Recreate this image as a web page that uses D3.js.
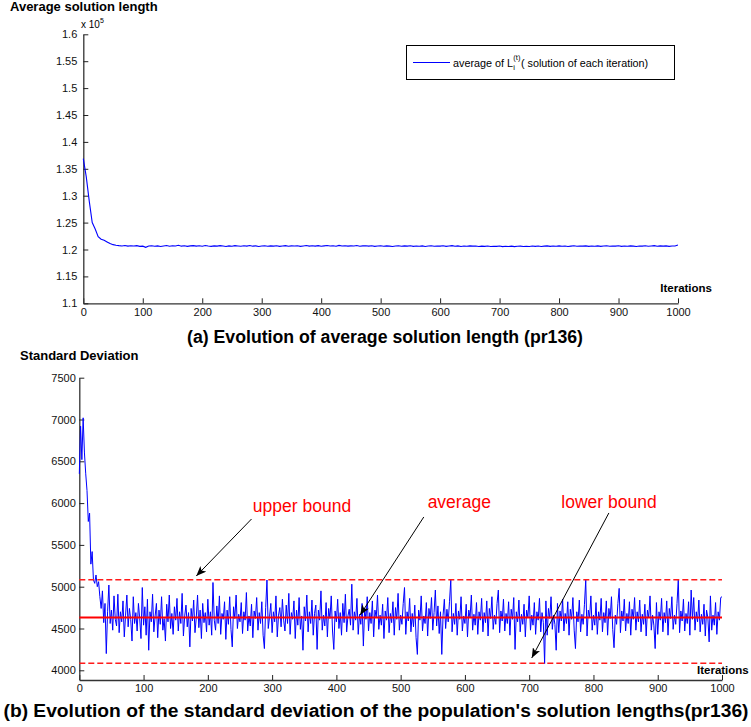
<!DOCTYPE html>
<html>
<head>
<meta charset="utf-8">
<script src="https://cdn.jsdelivr.net/npm/d3@7"></script>
<style>
  html, body { margin: 0; padding: 0; background: #fff; }
  svg { display: block; }
</style>
</head>
<body>
<svg id="chart" width="751" height="727"></svg>
<script>
// ---------------- DATA ----------------
// (a) average solution length, in units of 1e5, sampled every 5 iterations (0..1000)
const avgIterStep = 5;
const avgLength = [
1.369,1.335,1.290,1.250,1.238,1.224,1.219,1.217,1.214,1.211,1.209,1.208,
1.2072,1.2066,1.2074,1.2063,1.2070,1.2065,1.2071,1.2058,1.2062,1.2040,1.2064,1.2070,1.2061,1.2068,1.2055,1.2066,
1.2073,1.2060,1.2069,1.2064,1.2078,1.2062,1.2070,1.2059,1.2067,1.2072,1.2063,1.2069,1.2061,1.2074,1.2065,1.2058,
1.2068,1.2062,1.2071,1.2064,1.2055,1.2067,1.2060,1.2072,1.2066,1.2061,1.2069,1.2063,1.2075,1.2062,1.2068,1.2057,
1.2066,1.2071,1.2060,1.2067,1.2063,1.2070,1.2058,1.2065,1.2072,1.2061,1.2068,1.2064,1.2070,1.2059,1.2066,1.2073,
1.2062,1.2069,1.2063,1.2071,1.2060,1.2067,1.2074,1.2065,1.2070,1.2061,1.2076,1.2066,1.2071,1.2062,1.2068,1.2064,
1.2073,1.2060,1.2067,1.2071,1.2063,1.2069,1.2058,1.2066,1.2070,1.2061,1.2068,1.2063,1.2055,1.2066,1.2071,1.2060,
1.2067,1.2062,1.2069,1.2058,1.2065,1.2061,1.2068,1.2057,1.2064,1.2070,1.2060,1.2066,1.2062,1.2069,1.2059,1.2065,
1.2071,1.2061,1.2067,1.2056,1.2064,1.2060,1.2068,1.2062,1.2066,1.2057,1.2063,1.2059,1.2065,1.2055,1.2061,1.2058,
1.2064,1.2053,1.2060,1.2056,1.2062,1.2054,1.2059,1.2063,1.2055,1.2061,1.2057,1.2064,1.2059,1.2066,1.2056,1.2062,
1.2068,1.2058,1.2064,1.2060,1.2067,1.2061,1.2065,1.2057,1.2063,1.2069,1.2060,1.2066,1.2062,1.2068,1.2059,1.2065,
1.2061,1.2067,1.2058,1.2064,1.2070,1.2060,1.2066,1.2062,1.2069,1.2059,1.2065,1.2061,1.2068,1.2063,1.2057,1.2066,
1.2062,1.2069,1.2060,1.2065,1.2071,1.2061,1.2067,1.2062,1.2068,1.2059,1.2064,1.2066,1.2082
];

// (b) standard deviation of population's solution lengths, sampled every 2 iterations (0..1000)
const sdIterStep = 2;
const stdDev = [
6350,6920,6520,7020,6600,6350,6150,5780,5880,5270,5420,5080,5040,5140,5000,5060,4880,4740,4950,4570,4800,4200,4700,5020,4560,
4720,4480,4890,4610,4530,4910,4450,4700,4580,4830,4400,4660,4900,4520,4740,4610,4350,4880,4560,4690,4470,4800,4620,4380,4990,
4540,4760,4420,4850,4240,4700,4580,4910,4460,4650,4800,4390,4720,4550,4880,4480,4620,4350,4790,4580,4900,4500,4680,4430,4760,
4600,4860,4470,4700,4560,4920,4410,4650,4780,4520,4690,4280,4740,4590,4840,4450,4630,4900,4510,4720,4380,4800,4570,4690,4460,
4850,4540,4700,4420,5050,4600,4480,4770,4560,4890,4430,4680,4610,4820,4370,4720,4550,4880,4490,4280,4760,4620,4900,4500,4670,
4580,4810,4440,4700,4600,4930,4470,4650,4530,4790,4390,4710,4620,4870,4480,4690,4560,4820,4420,4260,4750,5080,4500,4640,4800,
4450,4700,4580,4890,4400,4660,4750,4520,4850,4600,4470,4780,4560,4920,4430,4690,4610,4830,4380,4720,4540,4870,4490,4650,4240,
4760,4590,4900,4460,4700,4560,4840,4420,4680,4780,4250,4720,4600,4950,4480,4660,4530,4810,4400,4740,4620,4890,4470,4250,4710,
4580,4850,4500,4690,4420,4800,4570,4910,4460,4650,4730,4540,5030,4480,4700,4600,4860,4430,4670,4550,4800,4290,4740,4610,4880,
4470,4690,4560,4830,4400,4720,4630,4900,4490,4660,4540,4790,4380,4710,4600,4870,4450,4680,4570,4820,4420,4750,4610,4920,4480,
4660,4550,4800,4990,4430,4700,4590,4860,4460,4680,4520,4780,4390,4190,4720,4600,4890,4470,4650,4560,4810,4410,4740,4620,4870,
4480,4690,4960,4530,4770,4440,4700,4190,4660,4850,4500,4730,4580,4820,5080,4460,4680,4550,4800,4420,4710,4610,4880,4470,4650,
4560,4790,4400,4720,4630,4900,4480,4670,4540,4810,4430,4700,4600,4860,4460,4690,4570,4830,4410,4740,4620,4880,4490,4660,4550,
4800,4960,4450,4710,4590,4850,4470,4680,4560,4820,4420,4730,4610,4870,4250,4700,4580,4840,4460,4670,4550,4790,4400,4720,4630,
4890,4480,4660,4540,4810,4430,4700,4600,4860,4460,4690,4570,4080,4830,4420,4740,4620,4880,4490,4660,4550,4240,4800,4450,4710,
4590,4850,4470,4680,4560,4820,4420,4730,4610,4870,4480,4260,4700,4580,4840,4460,4670,4550,4790,5080,4410,4720,4630,4890,4480,
4660,4540,4810,4430,4700,4600,4860,4460,4690,4570,4830,4420,4740,4620,4880,4490,4270,4660,4550,4800,4980,4450,4710,4590,4850,
4470,4680,4560,4820,4420,4730,4610,4870,4480,4700,4580,4840,4460,4670,4550,4790,4410,4720,4630,4890,4480,4660,4540,4260,4810,
4430,4700,4600,4860,4460,4690,4570,4830,4420,4740,4620,4880,4490,4660,4550,4800,5090,4450,4710,4590,4850,4470,4680,4560,4820,
4420,4960,4610,4870,4480,4700,4580,4840,4460,4670,4550,4790,4410,4720,4630,4340,4890,4480,4660,4540,4810,4430,4700,4600,4870,
4880
];

// reference lines of panel (b)
const sdAverage = 4631;
const sdUpperBound = 5083;
const sdLowerBound = 4084;

// tick labels
const xTicks = [0,100,200,300,400,500,600,700,800,900,1000];
const yTicksA = [1.1,1.15,1.2,1.25,1.3,1.35,1.4,1.45,1.5,1.55,1.6];
const yTicksB = [4000,4500,5000,5500,6000,6500,7000,7500];

// text
const titleA = "Average solution length";
const titleB = "Standard Deviation";
const captionA = "(a) Evolution of average solution length (pr136)";
const captionB = "(b) Evolution of the standard deviation of the population's solution lengths(pr136)";
const xLabel = "Iterations";

// ---------------- DRAW ----------------
const FONT = "'Liberation Sans', Arial, Helvetica, sans-serif";
const svg = d3.select("#chart").style("font-family", FONT);
svg.append("rect").attr("width", 751).attr("height", 727).attr("fill", "#fff");

svg.append("defs").append("marker")
  .attr("id", "arrow").attr("markerUnits", "userSpaceOnUse")
  .attr("viewBox", "0 0 10 8").attr("refX", 10).attr("refY", 4)
  .attr("markerWidth", 10).attr("markerHeight", 8).attr("orient", "auto")
  .append("path").attr("d", "M0,0 L10,4 L0,8 L2.5,4 Z").attr("fill", "#000");

function styleAxis(g) {
  g.selectAll("path.domain").attr("stroke", "#333").attr("stroke-width", 1.3);
  g.selectAll(".tick line").attr("stroke", "#222").attr("stroke-width", 1);
  g.selectAll(".tick text").attr("font-family", FONT).attr("font-size", 11).attr("fill", "#111");
}

// ===== Panel (a) =====
const xA = d3.scaleLinear().domain([0, 1000]).range([83.3, 678]);
const yA = d3.scaleLinear().domain([1.1, 1.6]).range([303.3, 34.3]);

const gA = svg.append("g");
gA.append("g").attr("transform", `translate(0,${yA(1.1)})`)
  .call(d3.axisBottom(xA).tickValues(xTicks).tickSize(-5).tickSizeOuter(0).tickPadding(4.5).tickFormat(d => d))
  .call(styleAxis);
gA.append("g").attr("transform", `translate(${xA(0)},0)`)
  .call(d3.axisLeft(yA).tickValues(yTicksA).tickSize(-5).tickSizeOuter(0).tickPadding(6).tickFormat(d => String(d)))
  .call(styleAxis);

const lineA = d3.line().x((d, i) => xA(i * avgIterStep)).y(d => yA(d));
gA.append("path").datum(avgLength).attr("d", lineA)
  .attr("fill", "none").attr("stroke", "#0000ff").attr("stroke-width", 1.1);

gA.append("text").attr("x", 10).attr("y", 10.5).attr("font-size", 13).attr("font-weight", "bold").text(titleA);
const expo = gA.append("text").attr("x", 81).attr("y", 28).attr("font-size", 10);
expo.append("tspan").text("x 10");
expo.append("tspan").attr("font-size", 7).attr("dy", -5).text("5");

gA.append("text").attr("x", 712).attr("y", 292).attr("text-anchor", "end")
  .attr("font-size", 11.5).attr("font-weight", "bold").text(xLabel);

// legend
const leg = gA.append("g");
leg.append("rect").attr("x", 406.5).attr("y", 45.5).attr("width", 268).attr("height", 34)
  .attr("fill", "#fff").attr("stroke", "#000").attr("stroke-width", 1);
leg.append("line").attr("x1", 413).attr("x2", 450).attr("y1", 62.5).attr("y2", 62.5)
  .attr("stroke", "#0000ff").attr("stroke-width", 1.1);
const t1 = leg.append("text").attr("x", 453).attr("y", 66.5).attr("font-size", 10.8).text("average of L");
const w1 = t1.node().getComputedTextLength();
leg.append("text").attr("x", 453 + w1 + 0.3).attr("y", 70).attr("font-size", 7.5).text("i");
const sup = leg.append("text").attr("x", 453 + w1 + 0.3).attr("y", 60).attr("font-size", 7.5).text("(t)");
const ws = sup.node().getComputedTextLength();
leg.append("text").attr("x", 453 + w1 + ws + 0.8).attr("y", 66.5).attr("font-size", 10.8)
  .text("( solution of each iteration)");

const capA = svg.append("text").attr("x", 385).attr("y", 343).attr("text-anchor", "middle")
  .attr("font-size", 18).attr("font-weight", "bold").text(captionA);
capA.attr("textLength", 396).attr("lengthAdjust", "spacingAndGlyphs");

// ===== Panel (b) =====
const xB = d3.scaleLinear().domain([0, 1000]).range([79.3, 722]);
const yB = d3.scaleLinear().domain([3884, 7500]).range([680, 377.7]);

const gB = svg.append("g");
gB.append("g").attr("transform", `translate(0,${yB(3884)})`)
  .call(d3.axisBottom(xB).tickValues(xTicks).tickSize(-5).tickSizeOuter(0).tickPadding(4).tickFormat(d => d))
  .call(styleAxis);
gB.append("g").attr("transform", `translate(${xB(0)},0)`)
  .call(d3.axisLeft(yB).tickValues(yTicksB).tickSize(-5).tickSizeOuter(0).tickPadding(3.5).tickFormat(d => d))
  .call(styleAxis);

const lineB = d3.line().x((d, i) => xB(i * sdIterStep)).y(d => yB(d));
gB.append("path").datum(stdDev).attr("d", lineB)
  .attr("fill", "none").attr("stroke", "#0000ff").attr("stroke-width", 1);

// bound lines
[sdUpperBound, sdLowerBound].forEach(v => {
  gB.append("line").attr("x1", xB(0)).attr("x2", xB(1000)).attr("y1", yB(v)).attr("y2", yB(v))
    .attr("stroke", "#ff1a1a").attr("stroke-width", 1.5).attr("stroke-dasharray", "6,3");
});
gB.append("line").attr("x1", xB(0)).attr("x2", xB(1000)).attr("y1", yB(sdAverage)).attr("y2", yB(sdAverage))
  .attr("stroke", "#ff0000").attr("stroke-width", 2);

// annotations (anchored in data space)
const notes = [
  { label: "upper bound", tx: 270, ty: 5898, from: [268, 5810], to: [182, 5128] },
  { label: "average",     tx: 542, ty: 5940, from: [536, 5834], to: [437, 4662] },
  { label: "lower bound", tx: 750, ty: 5940, from: [824, 5882], to: [704, 4148] }
];
notes.forEach(n => {
  gB.append("text").attr("x", xB(n.tx)).attr("y", yB(n.ty)).attr("font-size", 17.5)
    .attr("fill", "#ff0000").text(n.label);
  gB.append("line").attr("x1", xB(n.from[0])).attr("y1", yB(n.from[1]))
    .attr("x2", xB(n.to[0])).attr("y2", yB(n.to[1]))
    .attr("stroke", "#000").attr("stroke-width", 1).attr("marker-end", "url(#arrow)");
});

gB.append("text").attr("x", 20).attr("y", 360).attr("font-size", 13).attr("font-weight", "bold").text(titleB);
gB.append("text").attr("x", 697).attr("y", 674)
  .attr("font-size", 11.5).attr("font-weight", "bold").text(xLabel);

const capB = svg.append("text").attr("x", 376).attr("y", 717).attr("text-anchor", "middle")
  .attr("font-size", 18).attr("font-weight", "bold").text(captionB);
capB.attr("textLength", 745).attr("lengthAdjust", "spacingAndGlyphs");
</script>
</body>
</html>
